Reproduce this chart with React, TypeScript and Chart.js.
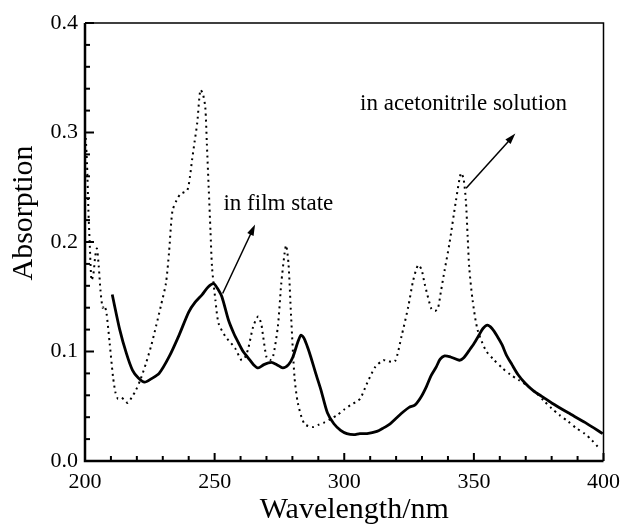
import React, { useEffect, useRef } from "react";
import { Chart, registerables } from "chart.js";

Chart.register(...registerables);

// ---- Data ----
const filmWavelengths = [
  210.5, 213.4, 216, 218.3, 220.5, 223, 225.5, 228.6, 232.4, 236.3, 240, 242.5, 245.2, 247.5, 249.6, 251,
  252.8, 255.3, 257.5, 259.2, 261, 263, 265, 266.8, 269, 271.9, 274, 276.3, 278.5, 280.2, 282, 283.3,
  284.5, 286, 287.1, 289, 291, 293.5, 296, 298.6, 301, 303.7, 306, 308.8, 312.6, 315, 317.7, 320,
  322.8, 325, 327.2, 329.5, 331.7, 333.5, 335.5, 337, 338.7, 341, 344.4, 346, 348.2, 350, 352,
  353.5, 355.2, 357, 359, 360.9, 362.5, 364.7, 367, 369.8, 373, 376.2, 380, 386.4, 393, 399.7,
];
const filmAbsorption = [
  0.152, 0.12, 0.098, 0.083, 0.076, 0.072, 0.075, 0.08, 0.095, 0.115, 0.136, 0.145, 0.152, 0.159, 0.162, 0.158,
  0.15, 0.129, 0.116, 0.108, 0.1, 0.094, 0.088, 0.085, 0.088, 0.09, 0.088, 0.085, 0.088, 0.095, 0.108, 0.115,
  0.112, 0.103, 0.095, 0.08, 0.065, 0.044, 0.034, 0.028, 0.025, 0.024, 0.025, 0.025, 0.027, 0.03, 0.034, 0.039,
  0.045, 0.049, 0.051, 0.058, 0.068, 0.078, 0.086, 0.093, 0.096, 0.095, 0.092, 0.094, 0.101, 0.107, 0.115,
  0.121, 0.124, 0.121, 0.114, 0.106, 0.097, 0.088, 0.079, 0.071, 0.064, 0.059, 0.053, 0.044, 0.035, 0.025,
];

const solutionWavelengths = [
  200.3, 200.8, 201.3, 201.8, 202.5, 203.2, 204, 204.6, 205.3, 206, 206.8, 207.5, 208.3, 209.5, 210.8, 211.8,
  212.7, 214, 215.5, 216.5, 218, 219.7, 221.5, 223.5, 225.5, 227.4, 229.3, 231.2, 232.4, 233.7, 235.3, 236.9,
  239.4, 240.5, 241.3, 242.3, 243.3, 244.5, 245.5, 246.4, 247, 247.7, 248.4, 249, 250.3, 251.5, 254.1, 257.9,
  260.4, 261.8, 263, 264.9, 266.8, 268, 268.7, 270, 271.3, 272.5, 274.4, 275.7, 277, 277.6, 278.5, 279.5,
  280.8, 282.1, 284.6, 287.8, 290, 292.2, 294.5, 297.3, 300, 302.4, 304.5, 306.2, 308.8, 312, 315.1, 317,
  319.6, 322.1, 324.7, 326.6, 328.5, 329.8, 331, 333.6, 335, 336.1, 337.3, 338.7, 340.6, 343.1, 345, 346,
  346.9, 347.6, 348.2, 349.5, 351.4, 354.6, 357.5, 360.9, 364, 367.3, 370.5, 373.7, 377, 380, 383, 386.4,
  389.5, 392.7, 395.5, 397.8,
];
const solutionAbsorption = [
  0.295, 0.27, 0.23, 0.2, 0.165, 0.17, 0.188, 0.194, 0.178, 0.155, 0.14, 0.142, 0.135, 0.108, 0.077, 0.062,
  0.057, 0.058, 0.055, 0.053, 0.058, 0.065, 0.075, 0.089, 0.105, 0.123, 0.142, 0.162, 0.19, 0.228, 0.238, 0.244,
  0.247, 0.26, 0.275, 0.292, 0.309, 0.339, 0.335, 0.323, 0.29, 0.25, 0.21, 0.177, 0.147, 0.126, 0.114, 0.103,
  0.092, 0.095, 0.103, 0.123, 0.132, 0.125, 0.114, 0.095, 0.092, 0.095, 0.123, 0.162, 0.19, 0.197, 0.18, 0.132,
  0.077, 0.053, 0.034, 0.031, 0.033, 0.035, 0.038, 0.042, 0.047, 0.051, 0.054, 0.057, 0.071, 0.086, 0.092, 0.091,
  0.091, 0.114, 0.141, 0.165, 0.179, 0.175, 0.162, 0.139, 0.137, 0.139, 0.155, 0.174, 0.199, 0.238, 0.263, 0.258,
  0.238, 0.205, 0.177, 0.147, 0.12, 0.101, 0.093, 0.085, 0.079, 0.074, 0.069, 0.063, 0.055, 0.048, 0.042, 0.036,
  0.03, 0.025, 0.019, 0.013,
];

const xTickValues = [200, 250, 300, 350, 400];
const yTickValues = [0.0, 0.1, 0.2, 0.3, 0.4];

const xTitle = "Wavelength/nm";
const yTitle = "Absorption";

const filmLabel = "in film state";
const solutionLabel = "in acetonitrile solution";
const filmLabelAnchor = [253.4, 0.229];
const solutionLabelAnchor = [306.1, 0.3205];
const filmArrow = [253.1, 0.153, 265.6, 0.216];
const solutionArrow = [347.0, 0.249, 366.0, 0.299];

const FONT = "'Liberation Serif', 'Times New Roman', serif";

const framePlugin = {
  id: "frameAndTicks",
  afterDatasetsDraw(chart: any) {
    const { ctx, chartArea } = chart;
    const { left, right, top, bottom } = chartArea;
    const xs = chart.scales.x;
    const ys = chart.scales.y;
    ctx.save();
    ctx.strokeStyle = "#000";
    ctx.lineWidth = 1.5;
    ctx.beginPath();
    ctx.moveTo(left, top);
    ctx.lineTo(right, top);
    ctx.lineTo(right, bottom);
    ctx.stroke();
    ctx.lineWidth = 2.5;
    ctx.beginPath();
    ctx.moveTo(left, top);
    ctx.lineTo(left, bottom);
    ctx.lineTo(right, bottom);
    ctx.stroke();
    ctx.lineWidth = 2;
    for (let v = 200; v <= 400; v += 10) {
      const px = xs.getPixelForValue(v);
      const len = v % 50 === 0 ? 8 : 5;
      ctx.beginPath();
      ctx.moveTo(px, bottom);
      ctx.lineTo(px, bottom - len);
      ctx.stroke();
    }
    for (let i = 0; i <= 20; i++) {
      const v = i * 0.02;
      const py = ys.getPixelForValue(v);
      const len = i % 5 === 0 ? 9 : 5;
      ctx.beginPath();
      ctx.moveTo(left, py);
      ctx.lineTo(left + len, py);
      ctx.stroke();
    }
    const drawArrow = (a: number[]) => {
      const x1 = xs.getPixelForValue(a[0]);
      const y1 = ys.getPixelForValue(a[1]);
      const x2 = xs.getPixelForValue(a[2]);
      const y2 = ys.getPixelForValue(a[3]);
      const ang = Math.atan2(y2 - y1, x2 - x1);
      const hl = 11;
      const hw = 3.5;
      ctx.lineWidth = 1.5;
      ctx.beginPath();
      ctx.moveTo(x1, y1);
      ctx.lineTo(x2 - Math.cos(ang) * hl * 0.8, y2 - Math.sin(ang) * hl * 0.8);
      ctx.stroke();
      ctx.fillStyle = "#000";
      ctx.beginPath();
      ctx.moveTo(x2, y2);
      ctx.lineTo(
        x2 - Math.cos(ang) * hl - Math.sin(ang) * hw,
        y2 - Math.sin(ang) * hl + Math.cos(ang) * hw
      );
      ctx.lineTo(
        x2 - Math.cos(ang) * hl + Math.sin(ang) * hw,
        y2 - Math.sin(ang) * hl - Math.cos(ang) * hw
      );
      ctx.closePath();
      ctx.fill();
    };
    drawArrow(filmArrow);
    drawArrow(solutionArrow);
    ctx.fillStyle = "#000";
    ctx.font = `23px ${FONT}`;
    ctx.textBaseline = "alphabetic";
    ctx.textAlign = "left";
    ctx.fillText(filmLabel, xs.getPixelForValue(filmLabelAnchor[0]), ys.getPixelForValue(filmLabelAnchor[1]));
    ctx.fillText(
      solutionLabel,
      xs.getPixelForValue(solutionLabelAnchor[0]),
      ys.getPixelForValue(solutionLabelAnchor[1])
    );
    ctx.font = `30px ${FONT}`;
    ctx.textAlign = "center";
    ctx.textBaseline = "alphabetic";
    ctx.fillText(xTitle, (left + right) / 2 + 10, bottom + 57);
    ctx.save();
    ctx.translate(32, (top + bottom) / 2 - 29);
    ctx.rotate(-Math.PI / 2);
    ctx.fillText(yTitle, 0, 0);
    ctx.restore();
    ctx.restore();
  },
};

export default function App() {
  const canvasRef = useRef<HTMLCanvasElement | null>(null);

  useEffect(() => {
    if (!canvasRef.current) return;
    const film = filmWavelengths.map((x, i) => ({ x, y: filmAbsorption[i] }));
    const solution = solutionWavelengths.map((x, i) => ({ x, y: solutionAbsorption[i] }));
    const chart = new Chart(canvasRef.current, {
      type: "line",
      data: {
        datasets: [
          {
            label: "in acetonitrile solution",
            data: solution,
            borderColor: "#000",
            borderWidth: 2,
            borderDash: [2, 4],
            pointRadius: 0,
            tension: 0.25,
            fill: false,
          },
          {
            label: "in film state",
            data: film,
            borderColor: "#000",
            borderWidth: 2.8,
            pointRadius: 0,
            tension: 0.25,
            fill: false,
          },
        ],
      },
      options: {
        responsive: true,
        maintainAspectRatio: false,
        animation: false,
        layout: { padding: { top: 23, right: 19, left: 0, bottom: 0 } },
        plugins: {
          legend: { display: false },
          tooltip: { enabled: false },
          title: { display: false },
        },
        scales: {
          x: {
            type: "linear",
            min: 200,
            max: 400,
            afterBuildTicks: (scale: any) => {
              scale.ticks = xTickValues.map((v) => ({ value: v }));
            },
            afterFit: (scale: any) => {
              scale.height = 63;
            },
            grid: { display: false, drawTicks: false },
            border: { display: false },
            ticks: {
              color: "#000",
              font: { family: FONT, size: 22 },
              padding: 8,
              maxRotation: 0,
              autoSkip: false,
              callback: (v: any) => String(v),
            },
          },
          y: {
            type: "linear",
            min: 0,
            max: 0.4,
            afterBuildTicks: (scale: any) => {
              scale.ticks = yTickValues.map((v) => ({ value: v }));
            },
            afterFit: (scale: any) => {
              scale.width = 85;
            },
            grid: { display: false, drawTicks: false },
            border: { display: false },
            ticks: {
              color: "#000",
              font: { family: FONT, size: 22 },
              padding: 7,
              autoSkip: false,
              callback: (v: any) => Number(v).toFixed(1),
            },
          },
        },
      },
      plugins: [framePlugin],
    });
    return () => chart.destroy();
  }, []);

  return (
    <div style={{ position: "fixed", left: 0, top: 0, width: 628, height: 524, background: "#fff" }}>
      <canvas ref={canvasRef} />
    </div>
  );
}
